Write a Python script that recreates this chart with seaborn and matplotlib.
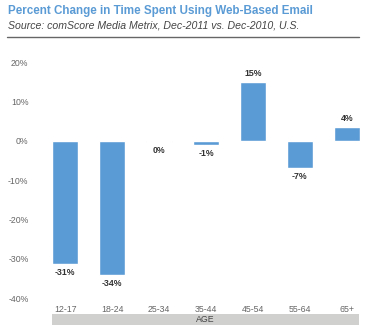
import matplotlib
matplotlib.use("Agg")
import matplotlib.pyplot as plt
import seaborn as sns
import pandas as pd
from matplotlib.patches import Rectangle
from matplotlib.lines import Line2D

categories = ["12-17", "18-24", "25-34", "35-44", "45-54", "55-64", "65+"]
values = [-31.4, -34.2, -0.3, -1.1, 14.8, -6.9, 3.4]
value_labels = ["-31%", "-34%", "0%", "-1%", "15%", "-7%", "4%"]
y_ticks = [-40, -30, -20, -10, 0, 10, 20]

sns.set_theme(style="white")
plt.rcParams['font.family'] = ['Liberation Sans', 'DejaVu Sans']

fig = plt.figure(figsize=(3.7, 3.33), dpi=100)
W, H = 370, 333
ax = fig.add_axes([52 / W, 1 - 298 / H, (360 - 52) / W, (298 - 62) / H])

df = pd.DataFrame({"age": categories, "pct": values})
sns.barplot(data=df, x="age", y="pct", color="#5b9bd5", saturation=1,
            width=0.55, ax=ax, order=categories)
ax.set_xlim(-0.28, 6.28)
ax.set_ylim(-40, 20)
ax.set_yticks(y_ticks)
ax.set_yticklabels([f"{t}%" for t in y_ticks])
ax.set_xlabel("")
ax.set_ylabel("")
for s in ax.spines.values():
    s.set_visible(False)
ax.tick_params(axis="both", length=0, labelsize=6.3, colors="#666666")
ax.tick_params(axis="y", pad=17)
ax.tick_params(axis="x", pad=5)

ax.bar_label(ax.containers[0], labels=value_labels, padding=3,
             fontsize=6.3, fontweight="bold", color="#333333")

# AGE band
fig.patches.append(Rectangle((52 / W, 1 - 325 / H), (359 - 52) / W, 11 / H,
                             transform=fig.transFigure, facecolor="#d0d1cf",
                             edgecolor="none"))
fig.text((52 + 359) / 2 / W, 1 - 319.5 / H, "AGE", ha="center", va="center",
         fontsize=6.3, color="#444444")

fig.text(8 / W, 1 - 11 / H, "Percent Change in Time Spent Using Web-Based Email",
         fontsize=8.4, fontweight="bold", color="#5b9bd5", ha="left", va="center")
fig.text(8 / W, 1 - 26 / H, "Source: comScore Media Metrix, Dec-2011 vs. Dec-2010, U.S.",
         fontsize=7.55, fontstyle="italic", color="#444444", ha="left", va="center")
fig.lines.append(Line2D([7 / W, 359 / W], [1 - 37 / H, 1 - 37 / H],
                        transform=fig.transFigure, color="#666666", linewidth=1))

fig.savefig("out.png", dpi=100)
